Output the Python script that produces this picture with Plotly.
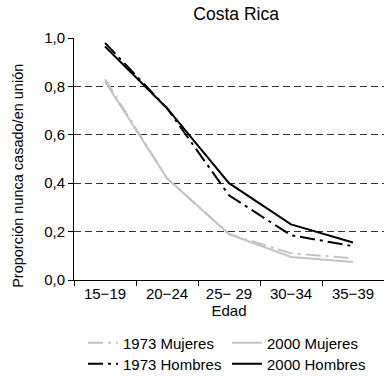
import plotly.graph_objects as go

categorias = ["15\u221219", "20\u221224", "25\u2212 29", "30\u221234", "35\u221239"]
mujeres_1973 = [0.83, 0.42, 0.19, 0.11, 0.09]
mujeres_2000 = [0.82, 0.42, 0.19, 0.095, 0.074]
hombres_1973 = [0.98, 0.71, 0.35, 0.185, 0.14]
hombres_2000 = [0.965, 0.71, 0.40, 0.23, 0.155]

GRAY = "#c4c4c4"
DASHDOT = "15px,5px,3px,5px"
fig = go.Figure()
fig.add_trace(go.Scatter(x=categorias, y=mujeres_1973, mode="lines", name="1973 Mujeres",
                         line=dict(color=GRAY, width=2, dash=DASHDOT), legend="legend"))
fig.add_trace(go.Scatter(x=categorias, y=mujeres_2000, mode="lines", name="2000 Mujeres",
                         line=dict(color=GRAY, width=2), legend="legend"))
fig.add_trace(go.Scatter(x=categorias, y=hombres_1973, mode="lines", name="1973 Hombres",
                         line=dict(color="black", width=2, dash=DASHDOT), legend="legend2"))
fig.add_trace(go.Scatter(x=categorias, y=hombres_2000, mode="lines", name="2000 Hombres",
                         line=dict(color="black", width=2), legend="legend2"))

FAM = "Liberation Sans, Arial, sans-serif"
font = dict(family=FAM, size=15, color="black")
leg = dict(orientation="h", x=0.029, xanchor="left", yanchor="middle",
           entrywidth=99, entrywidthmode="pixels", font=dict(size=15),
           bgcolor="rgba(0,0,0,0)", itemwidth=30, tracegroupgap=0)
fig.update_layout(
    width=384, height=376,
    margin=dict(l=74, r=0, t=38, b=96, autoexpand=False),
    paper_bgcolor="white", plot_bgcolor="white",
    font=font,
    showlegend=True,
    title=dict(text="Costa Rica", x=0.615, xanchor="center", y=0.962, yanchor="middle",
               font=dict(size=17.5, color="black")),
    xaxis=dict(type="category", range=[-0.5, 4.5], showgrid=False, showline=True,
               linecolor="black", linewidth=1, ticks="outside", tickson="boundaries",
               ticklen=5, tickcolor="black", automargin=False,
               title=dict(text="Edad", standoff=0, font=dict(size=15))),
    yaxis=dict(range=[0, 1.0], tickvals=[0, 0.2, 0.4, 0.6, 0.8, 1.0],
               ticktext=["0,0", "0,2", "0,4", "0,6", "0,8", "1,0"],
               showgrid=True, gridcolor="#333333", griddash="7px,4px", gridwidth=1,
               showline=True, linecolor="black", linewidth=1, ticks="outside",
               ticklen=5, tickcolor="black", zeroline=False, automargin=False),
    legend=dict(leg, y=-0.26),
    legend2=dict(leg, y=-0.347),
    annotations=[dict(text="Proporción nunca casado/en unión", textangle=-90,
                      xref="paper", yref="paper", x=-0.181, y=0.43,
                      xanchor="center", yanchor="middle", showarrow=False,
                      font=dict(size=14.5, color="black"))],
)
fig.write_html("out.html", config={"displayModeBar": False},
               post_script="document.body.style.margin='0';document.body.style.overflow='hidden';")
